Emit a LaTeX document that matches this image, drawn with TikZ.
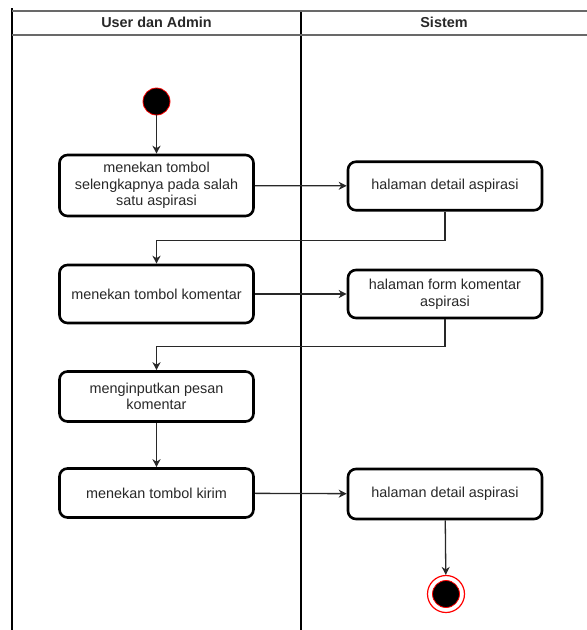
\documentclass[tikz,border=0pt]{standalone}
\usepackage{fontspec}
\setmainfont{Liberation Sans}
\usepackage{tikz}
\usetikzlibrary{arrows.meta}
\definecolor{lanegray}{RGB}{105,105,105}
\definecolor{inkgray}{RGB}{40,40,40}
\tikzset{%
    activity/.style={%
        draw=black, line width=2.6pt, rounded corners=8pt, fill=white,
        minimum width=194pt, align=center, text=inkgray, inner sep=2pt,
        font=\fontsize{14.4}{16.6}\selectfont
    },
    flow/.style={%
        draw=inkgray, line width=1.3pt,
        -{Stealth[length=8pt,width=8pt,inset=2.5pt]}
    },
    startdot/.style={circle, fill=black, draw=red, line width=0.8pt, inner sep=0pt},
    lanehead/.style={font=\bfseries\fontsize{14.4}{16.6}\selectfont, text=inkgray}
}

\begin{document}
\begin{tikzpicture}[x=1pt,y=-1pt]
    \useasboundingbox (0,0) rectangle (587,630);
    % swimlanes
    \draw[line width=1.5pt,black] (12,8)--(12,630);
    \draw[line width=1.5pt,black] (301,11)--(301,630);
    \foreach \y in {11,34.7}
    {
    \draw[line width=1.8pt,lanegray] (12,\y)--(587,\y);
    }
    \node[lanehead] (laneuser) at (156.5,22.8) {User dan Admin};
    \node[lanehead] (lanesistem) at (444,22.8) {Sistem};
    % activities
    \node[startdot, minimum size=27pt] (start) at (156.5,101.5) {};
    \node[activity, minimum height=61pt] (klikdetail) at (156.5,185.5) {menekan tombol\\selengkapnya pada salah\\satu aspirasi};
    \node[activity, minimum height=48.5pt] (detailsatu) at (445,186) {halaman detail aspirasi};
    \node[activity, minimum height=58pt] (klikkomentar) at (156.5,294) {menekan tombol komentar};
    \node[activity, minimum height=48pt] (formkomentar) at (445,294) {halaman form komentar\\aspirasi};
    \node[activity, minimum height=50pt] (inputpesan) at (156.5,396.5) {menginputkan pesan\\komentar};
    \node[activity, minimum height=49pt] (klikkirim) at (156.5,493) {menekan tombol kirim};
    \node[activity, minimum height=50pt] (detaildua) at (445,494) {halaman detail aspirasi};
    \node[circle, draw=red, fill=white, line width=1.2pt, minimum size=37pt, inner sep=0pt] (finish) at (446,594) {};
    \node[startdot, minimum size=27pt] (finishdot) at (finish) {};
    % flows
    \draw[flow] (start) -- (klikdetail);
    \draw[flow] (klikdetail) -- (detailsatu);
    \draw[flow] (detailsatu.south) -- ++(0,29) -| (klikkomentar.north);
    \draw[flow] (klikkomentar) -- (formkomentar);
    \draw[flow] (formkomentar.south) -- ++(0,27) -| (inputpesan.north);
    \draw[flow] (inputpesan) -- (klikkirim);
    \draw[flow] (klikkirim) -- (detaildua);
    \draw[flow] (detaildua) -- (finish);
\end{tikzpicture}
\end{document}
